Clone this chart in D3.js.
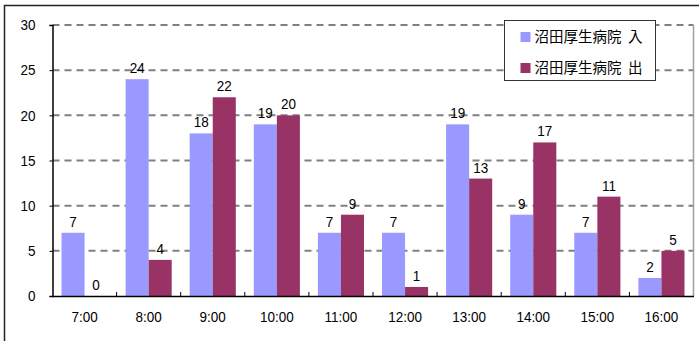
<!DOCTYPE html>
<html>
<head>
<meta charset="utf-8">
<script src="https://cdn.jsdelivr.net/npm/d3@7"></script>
<style>
  html, body { margin: 0; padding: 0; background: #fff; }
  svg { display: block; }
  text { font-family: Arial, "Liberation Sans", sans-serif; fill: #000; }
</style>
</head>
<body>
<script>
// Hourly counts, 7:00–16:00
const hours = ["7:00", "8:00", "9:00", "10:00", "11:00", "12:00", "13:00", "14:00", "15:00", "16:00"];
const seriesNames = ["沼田厚生病院 入", "沼田厚生病院 出"];
const valuesIn  = [7, 24, 18, 19, 7, 7, 19, 9, 7, 2];
const valuesOut = [0, 4, 22, 20, 9, 1, 13, 17, 11, 5];
const yTicks = [0, 5, 10, 15, 20, 25, 30];
const colors = ["#9999FF", "#993366"];

const W = 699, H = 341;
const plot = { left: 52.5, right: 693.5, top: 25, bottom: 296 };
const FONT = 15;      // numeric labels use a slightly condensed face
const SX = 0.9;

const svg = d3.select("body").append("svg").attr("width", W).attr("height", H);

// outer chart frame
svg.append("path")
  .attr("d", `M4.5,${H} V5.5 H${W}`)
  .attr("fill", "none").attr("stroke", "#222").attr("stroke-width", 1.5);

const x = d3.scaleBand().domain(hours).range([plot.left, plot.right]).paddingInner(0).paddingOuter(0);
const inner = d3.scaleBand().domain([0, 1]).range([9, x.bandwidth() - 9]).padding(0);
const y = d3.scaleLinear().domain([0, 30]).range([plot.bottom, plot.top]);

// gridlines
svg.append("g").selectAll("line").data(yTicks.filter(d => d > 0)).join("line")
  .attr("x1", plot.left).attr("x2", plot.right)
  .attr("y1", d => y(d)).attr("y2", d => y(d))
  .attr("stroke", "#808080").attr("stroke-width", 2).attr("stroke-dasharray", "7,5");

// right border of plot area
svg.append("line")
  .attr("x1", plot.right).attr("x2", plot.right)
  .attr("y1", plot.top).attr("y2", plot.bottom)
  .attr("stroke", "#a0a0a0").attr("stroke-width", 1.5);

// bars
const series = [valuesIn, valuesOut];
series.forEach((vals, si) => {
  const g = svg.append("g");
  g.selectAll("rect").data(vals).join("rect")
    .attr("x", (d, i) => x(hours[i]) + inner(si))
    .attr("y", d => y(d))
    .attr("width", inner.bandwidth())
    .attr("height", d => y(0) - y(d))
    .attr("fill", colors[si]);
  g.selectAll("g.lbl").data(vals).join("g")
    .attr("class", "lbl")
    .attr("transform", (d, i) => `translate(${x(hours[i]) + inner(si) + inner.bandwidth() / 2},${y(d) - 6})`)
    .append("text")
    .attr("transform", `scale(${SX},1)`)
    .attr("text-anchor", "middle")
    .attr("font-size", FONT)
    .text(d => d);
});

// y axis
const yPad = 14;
const yAxis = d3.axisLeft(y).tickValues(yTicks).tickSize(3).tickPadding(yPad);
const gy = svg.append("g").attr("transform", `translate(${plot.left},0)`).call(yAxis);
gy.select(".domain").attr("stroke", "#000").attr("stroke-width", 1.5);
gy.selectAll(".tick line").attr("stroke", "#000");
gy.selectAll(".tick text")
  .attr("font-size", FONT).attr("font-family", "Arial, 'Liberation Sans', sans-serif")
  .attr("x", -(3 + yPad) / SX)
  .attr("transform", `scale(${SX},1)`);

// x axis
const xAxis = d3.axisBottom(x).tickSize(0).tickPadding(16);
const gx = svg.append("g").attr("transform", `translate(0,${plot.bottom})`).call(xAxis);
gx.select(".domain").attr("stroke", "#000").attr("stroke-width", 1.5);
gx.selectAll(".tick text")
  .attr("font-size", FONT).attr("font-family", "Arial, 'Liberation Sans', sans-serif")
  .attr("dy", "0.65em")
  .attr("transform", `scale(${SX},1)`);
// category separators
svg.append("g").selectAll("line").data(hours.slice(1)).join("line")
  .attr("x1", d => x(d)).attr("x2", d => x(d))
  .attr("y1", plot.bottom).attr("y2", plot.bottom - 4)
  .attr("stroke", "#000").attr("stroke-width", 1);

// legend
const lg = svg.append("g").attr("transform", "translate(504.5,20.5)");
lg.append("rect").attr("width", 151).attr("height", 60)
  .attr("fill", "#fff").attr("stroke", "#333").attr("stroke-width", 1);
seriesNames.forEach((name, i) => {
  const cy = 16.5 + i * 31;
  lg.append("rect").attr("x", 16).attr("y", cy - 5).attr("width", 10).attr("height", 10).attr("fill", colors[i]);
  lg.append("text").attr("x", 30).attr("y", cy + 5)
    .attr("font-size", 14.5)
    .attr("xml:space", "preserve")
    .style("white-space", "pre")
    .style("font-family", "'Noto Sans CJK JP', sans-serif")
    .text(name.replace(" ", "  "));
});
</script>
</body>
</html>
